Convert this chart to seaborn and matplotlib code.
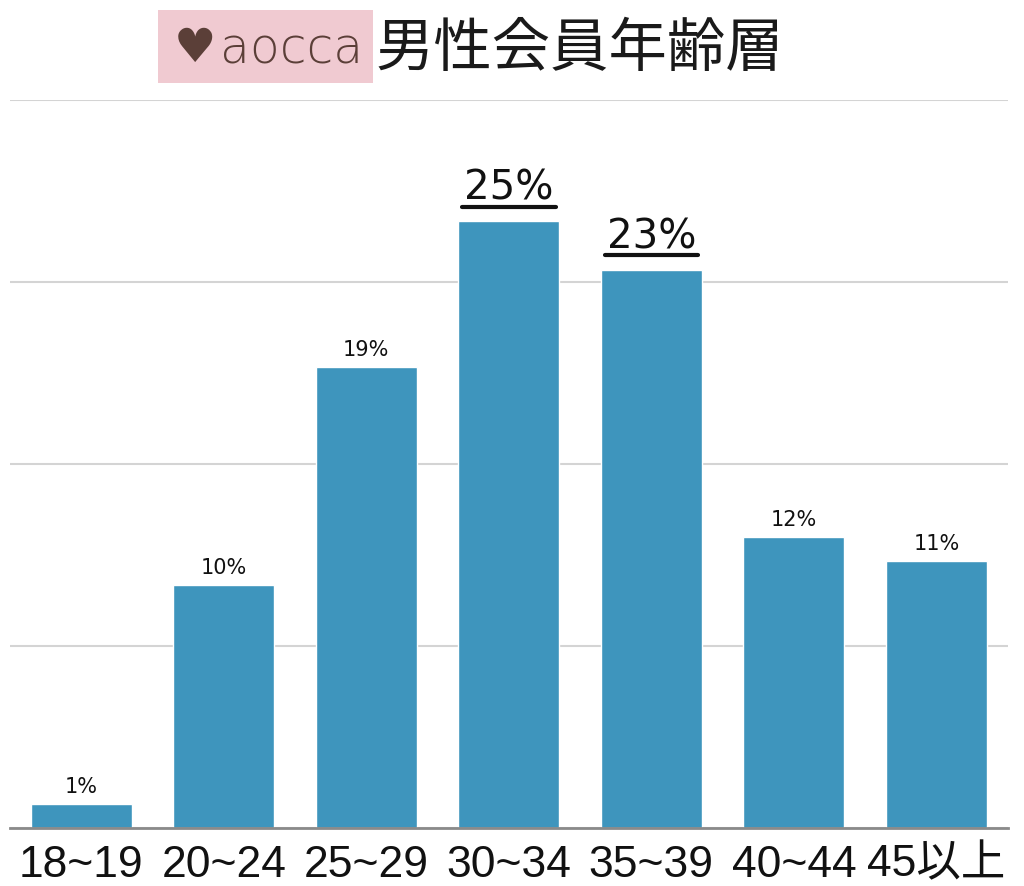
import matplotlib
matplotlib.use("Agg")
import matplotlib.pyplot as plt
import seaborn as sns
import pandas as pd
from matplotlib.lines import Line2D
from matplotlib.patches import Rectangle

categories = ["18~19", "20~24", "25~29", "30~34", "35~39", "40~44", "45以上"]
values = [1, 10, 19, 25, 23, 12, 11]
labels = ["1%", "10%", "19%", "25%", "23%", "12%", "11%"]
highlight = [False, False, False, True, True, False, False]
title = "男性会員年齢層"
logo_text = "aocca"

sns.set_theme(style="white")
plt.rcParams['font.family'] = ['Liberation Sans Narrow', 'Liberation Sans', 'Noto Sans CJK JP', 'DejaVu Sans']

df = pd.DataFrame({"age": categories, "pct": values})

fig = plt.figure(figsize=(10.24, 8.86), dpi=100)
ax = fig.add_axes([0.0098, 0.0655, 0.9742, 0.8216])
sns.barplot(data=df, x="age", y="pct", color="#3e95bd", saturation=1, width=0.71, ax=ax, zorder=3)

ax.set_ylim(0, 30)
ax.set_yticks([0, 7.5, 15, 22.5, 30])
ax.yaxis.grid(True, color="#d4d4d4", linewidth=1.5, zorder=0)
ax.set_axisbelow(True)
ax.set_yticklabels([])
ax.tick_params(axis="y", length=0)
ax.tick_params(axis="x", length=0, pad=12, labelsize=32, labelcolor="#111111")
for lab in ax.get_xticklabels():
    lab.set_fontfamily(['Liberation Sans Narrow', 'Liberation Sans', 'Noto Sans CJK JP'])
ax.set_xlabel("")
ax.set_ylabel("")
for s in ["top", "right", "left"]:
    ax.spines[s].set_visible(False)
ax.spines["bottom"].set_color("#8a8a8a")
ax.spines["bottom"].set_linewidth(2)
ax.spines["bottom"].set_zorder(4)

texts = []
for i, (v, lab, hl) in enumerate(zip(values, labels, highlight)):
    if hl:
        t = ax.annotate(lab, (i, v), xytext=(0, 9), textcoords="offset points",
                        ha="center", va="bottom", fontsize=29, color="#111111",
                        fontfamily="DejaVu Sans", fontweight="normal")
        texts.append(t)
    else:
        ax.annotate(lab, (i, v), xytext=(0, 5), textcoords="offset points",
                    ha="center", va="bottom", fontsize=15, color="#111111",
                    fontfamily="DejaVu Sans", fontweight="medium")

fig.canvas.draw()
r = fig.canvas.get_renderer()
for t in texts:
    bb = t.get_window_extent(r)
    (x0, y0), (x1, y1) = fig.transFigure.inverted().transform([[bb.x0 - 2, bb.y0 + 2], [bb.x1 + 2, bb.y0 + 2]])
    fig.add_artist(Line2D([x0, x1], [y0, y1], color="#111111", linewidth=3, transform=fig.transFigure))

# title logo box
fig.add_artist(Rectangle((0.154, 0.906), 0.210, 0.083, transform=fig.transFigure,
                         facecolor="#f0cad1", edgecolor="none"))
fig.text(0.190, 0.944, "♥", fontsize=34, color="#5b3f38", ha="center", va="center",
         fontfamily="DejaVu Sans")
fig.text(0.285, 0.944, logo_text, fontsize=35, color="#5b3f38", ha="center", va="center",
         fontfamily="DejaVu Sans", fontweight="light")
fig.text(0.367, 0.944, title, fontsize=42, color="#1a1a1a", ha="left", va="center",
         fontfamily=["Noto Sans CJK JP"], fontweight="normal")

fig.savefig("out.png", dpi=100, facecolor="white")
